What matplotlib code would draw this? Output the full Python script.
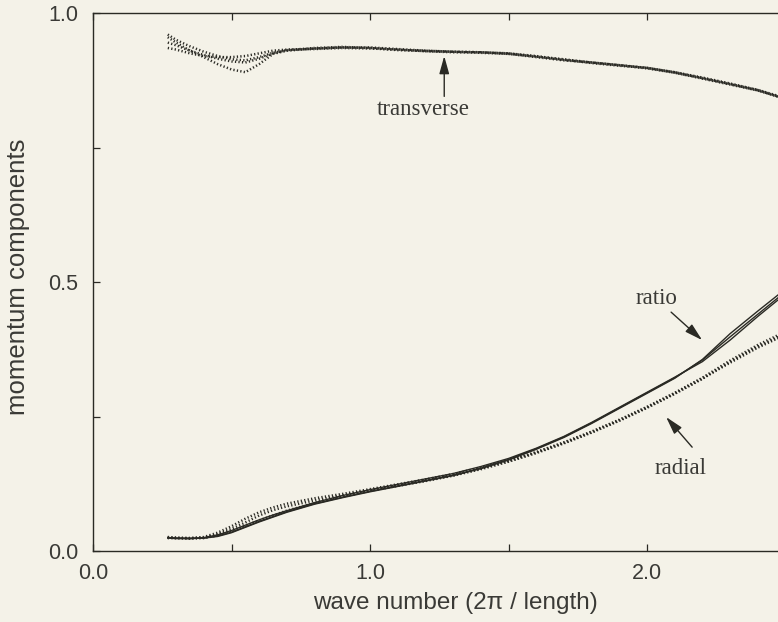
import matplotlib
matplotlib.use("Agg")
import matplotlib.pyplot as plt
from matplotlib.ticker import MultipleLocator, FixedLocator

BG = "#f4f2e8"
INK = "#2a2a24"
TXT = "#3a3a36"

# wave number grid shared by all realisations
k = [0.27, 0.30, 0.35, 0.40, 0.45, 0.50, 0.55, 0.60, 0.65, 0.70, 0.80, 0.90,
     1.0, 1.1, 1.2, 1.3, 1.4, 1.5, 1.6, 1.7, 1.8, 1.9, 2.0, 2.1, 2.2, 2.3,
     2.4, 2.5, 2.6]

# transverse component, four realisations (dotted)
trans_a = [0.955, 0.945, 0.930, 0.918, 0.905, 0.895, 0.890, 0.905, 0.924, 0.930,
           0.934, 0.936, 0.935, 0.932, 0.929, 0.928, 0.927, 0.925, 0.919, 0.913,
           0.908, 0.903, 0.898, 0.890, 0.879, 0.868, 0.857, 0.840, 0.820]
trans_b = [0.945, 0.940, 0.930, 0.922, 0.915, 0.910, 0.908, 0.915, 0.925, 0.931,
           0.935, 0.937, 0.935, 0.931, 0.930, 0.928, 0.926, 0.924, 0.919, 0.914,
           0.908, 0.903, 0.897, 0.889, 0.879, 0.868, 0.856, 0.841, 0.821]
trans_c = [0.935, 0.932, 0.925, 0.920, 0.918, 0.918, 0.920, 0.925, 0.930, 0.932,
           0.933, 0.935, 0.934, 0.932, 0.929, 0.927, 0.927, 0.925, 0.920, 0.913,
           0.907, 0.902, 0.898, 0.890, 0.880, 0.869, 0.857, 0.842, 0.822]
trans_d = [0.960, 0.950, 0.938, 0.928, 0.920, 0.914, 0.912, 0.918, 0.926, 0.931,
           0.934, 0.936, 0.936, 0.933, 0.930, 0.928, 0.927, 0.924, 0.918, 0.912,
           0.908, 0.903, 0.898, 0.889, 0.878, 0.867, 0.856, 0.840, 0.819]

# radial component, three realisations (dotted)
rad_a = [0.025, 0.024, 0.023, 0.024, 0.029, 0.037, 0.047, 0.057, 0.066, 0.075,
         0.089, 0.101, 0.112, 0.121, 0.130, 0.140, 0.152, 0.166, 0.182, 0.200,
         0.220, 0.242, 0.266, 0.292, 0.320, 0.352, 0.380, 0.404, 0.432]
rad_b = [0.024, 0.024, 0.024, 0.026, 0.034, 0.046, 0.060, 0.072, 0.081, 0.088,
         0.098, 0.106, 0.115, 0.124, 0.133, 0.143, 0.155, 0.168, 0.184, 0.202,
         0.222, 0.244, 0.268, 0.294, 0.322, 0.354, 0.383, 0.408, 0.436]
rad_c = [0.026, 0.025, 0.024, 0.025, 0.031, 0.041, 0.053, 0.066, 0.076, 0.083,
         0.094, 0.103, 0.113, 0.122, 0.131, 0.141, 0.153, 0.167, 0.183, 0.201,
         0.221, 0.243, 0.267, 0.293, 0.321, 0.350, 0.378, 0.402, 0.429]

# ratio, three realisations (solid)
ratio_a = [0.025, 0.024, 0.023, 0.024, 0.028, 0.035, 0.045, 0.055, 0.064, 0.073,
           0.088, 0.100, 0.111, 0.121, 0.131, 0.141, 0.154, 0.170, 0.190, 0.212,
           0.238, 0.266, 0.294, 0.322, 0.355, 0.398, 0.440, 0.482, 0.525]
ratio_b = [0.024, 0.023, 0.023, 0.025, 0.030, 0.038, 0.048, 0.058, 0.067, 0.075,
           0.090, 0.103, 0.114, 0.124, 0.134, 0.144, 0.157, 0.172, 0.191, 0.213,
           0.239, 0.267, 0.295, 0.323, 0.352, 0.392, 0.436, 0.478, 0.520]
ratio_c = [0.025, 0.024, 0.024, 0.024, 0.027, 0.034, 0.044, 0.054, 0.063, 0.072,
           0.087, 0.099, 0.110, 0.120, 0.130, 0.140, 0.153, 0.169, 0.189, 0.211,
           0.237, 0.265, 0.293, 0.321, 0.356, 0.404, 0.446, 0.487, 0.530]

plt.rcParams["font.family"] = ["Liberation Sans", "DejaVu Sans"]

fig = plt.figure(figsize=(7.78, 6.22), dpi=100, facecolor=BG)
# right edge of the axes sits just beyond the picture (scan is cropped)
W, H = 692.5, 538
ax = fig.add_axes([93 / 778, 71 / 622, W / 778, H / 622], facecolor=BG)

dot = dict(color=INK, lw=1.8, ls=(0, (0.5, 0.9)))
for t in (trans_a, trans_b, trans_c, trans_d):
    ax.plot(k, t, **dot)
for r in (rad_a, rad_b, rad_c):
    ax.plot(k, r, **dot)
for r in (ratio_a, ratio_b, ratio_c):
    ax.plot(k, r, color=INK, lw=1.0)

ax.set_xlim(0, 2.5)
ax.set_ylim(0, 1.0)
ax.xaxis.set_major_locator(FixedLocator([0.0, 1.0, 2.0]))
ax.xaxis.set_minor_locator(MultipleLocator(0.5))
ax.yaxis.set_major_locator(FixedLocator([0.0, 0.5, 1.0]))
ax.yaxis.set_minor_locator(MultipleLocator(0.25))
ax.set_xticklabels(["0.0", "1.0", "2.0"])
ax.set_yticklabels(["0.0", "0.5", "1.0"])
ax.tick_params(which="both", direction="in", top=True, right=True,
               length=5, width=0.9, color=INK)
ax.tick_params(axis="x", pad=8.5, labelsize=15.5, labelcolor=TXT)
ax.tick_params(axis="y", pad=10.5, labelsize=15.5, labelcolor=TXT)
for s in ax.spines.values():
    s.set_color(INK)
    s.set_linewidth(1.0)

ax.set_xlabel("wave number (2\u03c0 / length)", fontsize=17.5, color=TXT,
              va="center")
ax.xaxis.set_label_coords((455 - 93) / W, -52 / H)
ax.set_ylabel("momentum components", fontsize=18.5, color=TXT, va="center")
ax.yaxis.set_label_coords((18 - 93) / W, (551 - 277) / H)

serif = dict(family=["Liberation Serif", "DejaVu Serif"], fontsize=16.5,
             color=TXT, ha="center", va="center")
arr = dict(arrowstyle="-|>,head_length=0.9,head_width=0.25", color=INK,
           lw=1.0, mutation_scale=12, shrinkA=0, shrinkB=0)
ax.text(1.191, 0.820, "transverse", **serif)
ax.annotate("", xy=(1.268, 0.920), xytext=(1.268, 0.845), arrowprops=arr)
ax.text(2.036, 0.470, "ratio", **serif)
ax.annotate("", xy=(2.199, 0.392), xytext=(2.087, 0.444), arrowprops=arr)
ax.text(2.123, 0.154, "radial", **serif)
ax.annotate("", xy=(2.069, 0.249), xytext=(2.163, 0.193), arrowprops=arr)

fig.savefig("out.png", dpi=100, facecolor=BG)
